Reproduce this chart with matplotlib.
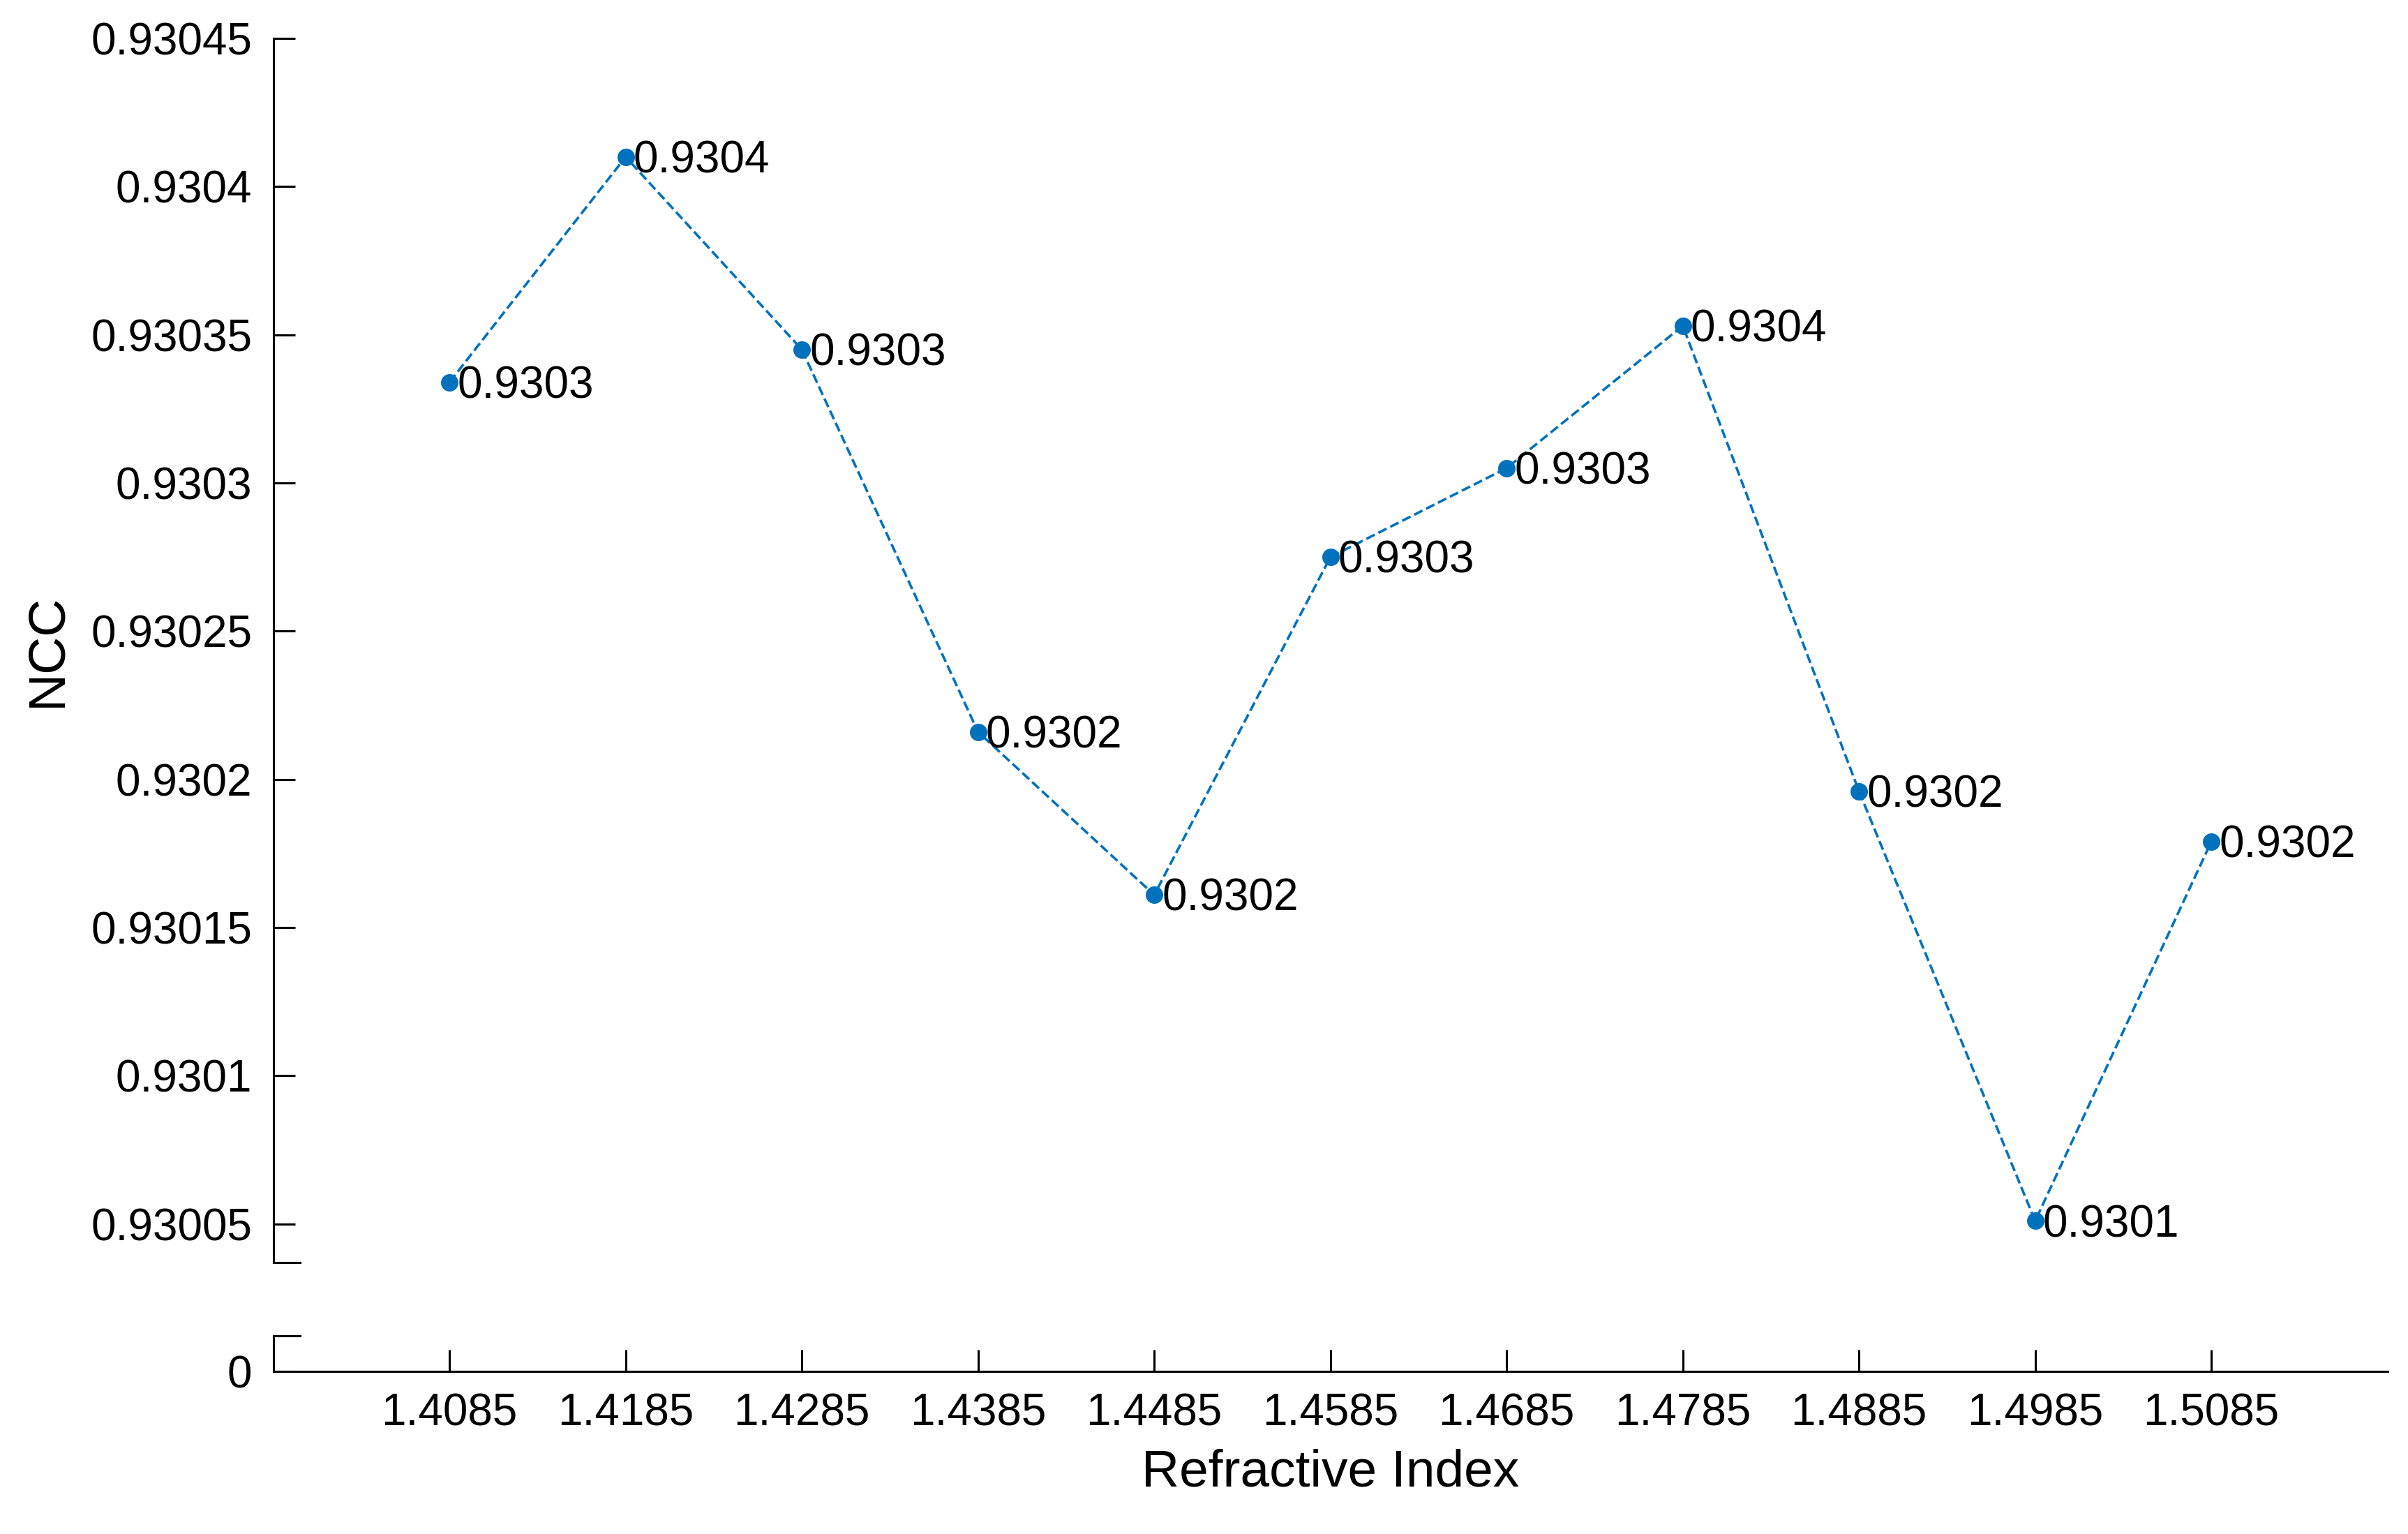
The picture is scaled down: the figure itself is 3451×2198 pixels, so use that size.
import matplotlib.pyplot as plt
import numpy as np

plt.rcParams['font.family'] = ['Liberation Sans', 'DejaVu Sans']

refractive_index = [1.4085, 1.4185, 1.4285, 1.4385, 1.4485, 1.4585,
                    1.4685, 1.4785, 1.4885, 1.4985, 1.5085]
ncc = [0.930334, 0.930410, 0.930345, 0.930216, 0.930161, 0.930275,
       0.930305, 0.930353, 0.930196, 0.930051, 0.930179]
y_ticks = [0.93005, 0.9301, 0.93015, 0.9302, 0.93025, 0.9303,
           0.93035, 0.9304, 0.93045]

color = "#0072BD"
fs = 46

fig = plt.figure(figsize=(34.51, 21.98), dpi=100)
ax = fig.add_axes([0.1135, 0.177, 0.878, 0.798])
ax_low = fig.add_axes([0.1135, 0.106, 0.878, 0.023])

ax.plot(refractive_index, ncc, linestyle="--", color=color, linewidth=2.6,
        marker="o", markersize=17)
for x, y in zip(refractive_index, ncc):
    ax.annotate(f"{y:.4f}", (x, y), xytext=(8, -4), textcoords="offset points",
                ha="left", va="center", fontsize=fs)

xlim = (1.3985, 1.5185)
ax.set_xlim(*xlim)
ax.set_ylim(0.930037, 0.93045)
ax.set_yticks(y_ticks)
ax.set_yticklabels([f"{t:.5f}".rstrip("0") for t in y_ticks])
ax.set_xticks([])
for s in ["top", "right", "bottom"]:
    ax.spines[s].set_visible(False)
ax.spines["left"].set_linewidth(2.2)
ax.tick_params(axis="y", direction="in", length=22, width=2.2, labelsize=fs, pad=22)
ax.set_ylabel("NCC", fontsize=54, labelpad=20)
ax.patch.set_alpha(0)

ax_low.set_xlim(*xlim)
ax_low.set_ylim(0, 1)
ax_low.set_yticks([0])
ax_low.set_xticks(refractive_index)
ax_low.set_xticklabels([f"{v:.4f}" for v in refractive_index])
for s in ["top", "right"]:
    ax_low.spines[s].set_visible(False)
for s in ["left", "bottom"]:
    ax_low.spines[s].set_linewidth(2.2)
ax_low.tick_params(axis="both", direction="in", length=22, width=2.2, labelsize=fs, pad=22)
ax_low.set_xlabel("Refractive Index", fontsize=54, labelpad=14)
ax_low.patch.set_alpha(0)

# small break marks
for yy, a in [(0, ax), (1, ax_low)]:
    a.plot([xlim[0], xlim[0] + 0.0015], [a.get_ylim()[yy], a.get_ylim()[yy]],
           color="black", linewidth=2.2, clip_on=False)

fig.savefig("out.png", dpi=100)
